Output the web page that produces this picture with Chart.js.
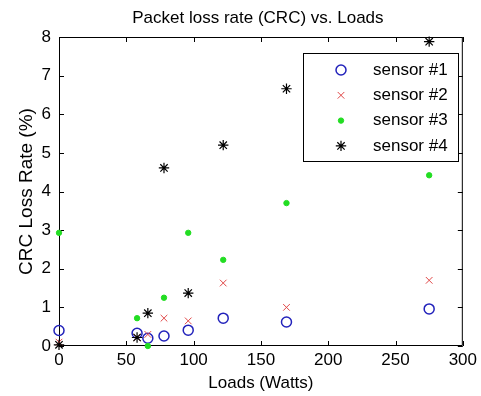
<!DOCTYPE html>
<html>
<head>
<meta charset="utf-8">
<title>Packet loss rate (CRC) vs. Loads</title>
<script src="https://cdn.jsdelivr.net/npm/chart.js@4/dist/chart.umd.min.js"></script>
<style>
  html, body { margin: 0; padding: 0; background: #fff; }
  #wrap { width: 481px; height: 396px; }
</style>
</head>
<body>
<div id="wrap"><canvas id="chart" width="481" height="396"></canvas></div>
<script>
// データ
const loads = [0, 58, 66, 78, 96, 122, 169, 275];
const sensor1 = [0.40, 0.33, 0.20, 0.26, 0.41, 0.72, 0.62, 0.96];
const sensor2 = [0.10, 0.22, 0.30, 0.72, 0.65, 1.63, 1.00, 1.70];
const sensor3 = [2.93, 0.72, 0.00, 1.25, 2.93, 2.23, 3.70, 4.42];
const sensor4 = [0.03, 0.22, 0.85, 4.61, 1.37, 5.20, 6.66, 7.88];
const seriesLabels = ['sensor #1', 'sensor #2', 'sensor #3', 'sensor #4'];
const xTicks = [0, 50, 100, 150, 200, 250, 300];
const yTicks = [0, 1, 2, 3, 4, 5, 6, 7, 8];

const FONT = "'Liberation Sans', Arial, sans-serif";

function toPoints(values) {
  return values.map((v, i) => ({ x: loads[i], y: v }));
}

/**
 * MATLAB-style box with inward ticks, title and legend
 */
const boxPlugin = {
  id: 'matlabBox',
  beforeDatasetsDraw(chart) {
    const { ctx, chartArea: a, scales } = chart;
    const len = 5;
    ctx.save();
    ctx.strokeStyle = '#000';
    ctx.lineWidth = 1;
    ctx.beginPath();
    ctx.rect(a.left + 0.5, a.top + 0.5, a.right - a.left - 1, a.bottom - a.top - 1);
    scales.x.ticks.forEach(t => {
      const px = Math.round(scales.x.getPixelForValue(t.value)) + 0.5;
      ctx.moveTo(px, a.bottom); ctx.lineTo(px, a.bottom - len);
      ctx.moveTo(px, a.top); ctx.lineTo(px, a.top + len);
    });
    scales.y.ticks.forEach(t => {
      const py = Math.round(scales.y.getPixelForValue(t.value)) + 0.5;
      ctx.moveTo(a.left, py); ctx.lineTo(a.left + len, py);
      ctx.moveTo(a.right, py); ctx.lineTo(a.right - len, py);
    });
    ctx.stroke();
    ctx.restore();
  },
  afterDraw(chart) {
    const { ctx, chartArea: a } = chart;
    ctx.save();
    // title
    ctx.fillStyle = '#000';
    ctx.font = '17px ' + FONT;
    ctx.textAlign = 'center';
    ctx.textBaseline = 'alphabetic';
    ctx.fillText('Packet loss rate (CRC) vs. Loads', (a.left + a.right) / 2 - 3, 23);

    // legend
    const box = { left: 303, top: 53, right: 458, bottom: 161 };
    ctx.fillStyle = '#fff';
    ctx.fillRect(box.left, box.top, box.right - box.left, box.bottom - box.top);
    ctx.strokeStyle = '#000';
    ctx.lineWidth = 1;
    ctx.strokeRect(box.left + 0.5, box.top + 0.5, box.right - box.left, box.bottom - box.top);
    const rowH = 25.3;
    chart.data.datasets.forEach((ds, i) => {
      const y = 70 + i * rowH;
      ctx.strokeStyle = ds.borderColor;
      ctx.fillStyle = ds.backgroundColor;
      ctx.lineWidth = ds.borderWidth;
      Chart.helpers.drawPoint(ctx, {
        pointStyle: ds.pointStyle,
        radius: ds.pointRadius,
        rotation: 0,
        borderWidth: ds.borderWidth
      }, 341, y);
      ctx.fillStyle = '#000';
      ctx.font = '17px ' + FONT;
      ctx.textAlign = 'left';
      ctx.textBaseline = 'middle';
      ctx.fillText(ds.label, 373, y);
    });
    ctx.restore();
  }
};

const datasets = [
  { label: seriesLabels[0], data: toPoints(sensor1), pointStyle: 'circle', pointRadius: 5,
    borderColor: '#2222bb', backgroundColor: 'rgba(0,0,0,0)', borderWidth: 1.5, order: 4 },
  { label: seriesLabels[1], data: toPoints(sensor2), pointStyle: 'crossRot', pointRadius: 4.7,
    borderColor: '#e04848', backgroundColor: 'rgba(0,0,0,0)', borderWidth: 1, order: 3 },
  { label: seriesLabels[2], data: toPoints(sensor3), pointStyle: 'circle', pointRadius: 2.7,
    borderColor: '#22dd22', backgroundColor: '#22dd22', borderWidth: 1, order: 2 },
  { label: seriesLabels[3], data: toPoints(sensor4), pointStyle: 'star', pointRadius: 5.2,
    borderColor: '#000000', backgroundColor: '#000000', borderWidth: 1.2, order: 1 }
].map(ds => ({ ...ds, showLine: false, clip: false, pointHoverRadius: ds.pointRadius }));

new Chart(document.getElementById('chart'), {
  type: 'scatter',
  data: { datasets },
  options: {
    responsive: false,
    animation: false,
    events: [],
    layout: { padding: { top: 37, right: 14, left: 0, bottom: 0 } },
    plugins: {
      legend: { display: false },
      title: { display: false },
      tooltip: { enabled: false }
    },
    scales: {
      x: {
        type: 'linear',
        min: 0,
        max: 300,
        afterBuildTicks: s => { s.ticks = xTicks.map(v => ({ value: v })); },
        afterFit: s => { s.height = 50; },
        grid: { display: false, drawTicks: false },
        border: { display: false },
        ticks: { color: '#000', font: { family: FONT, size: 17 }, padding: 4 },
        title: { display: true, text: 'Loads (Watts)', color: '#000',
                 font: { family: FONT, size: 17 }, padding: { top: 0, bottom: 2 } }
      },
      y: {
        type: 'linear',
        min: 0,
        max: 8,
        afterBuildTicks: s => { s.ticks = yTicks.map(v => ({ value: v })); },
        afterFit: s => { s.width = 59; },
        grid: { display: false, drawTicks: false },
        border: { display: false },
        ticks: { color: '#000', font: { family: FONT, size: 17 }, padding: 8 },
        title: { display: true, text: 'CRC Loss Rate (%)', color: '#000',
                 font: { family: FONT, size: 19 }, padding: { top: 15, bottom: 0 } }
      }
    }
  },
  plugins: [boxPlugin]
});
</script>
</body>
</html>
